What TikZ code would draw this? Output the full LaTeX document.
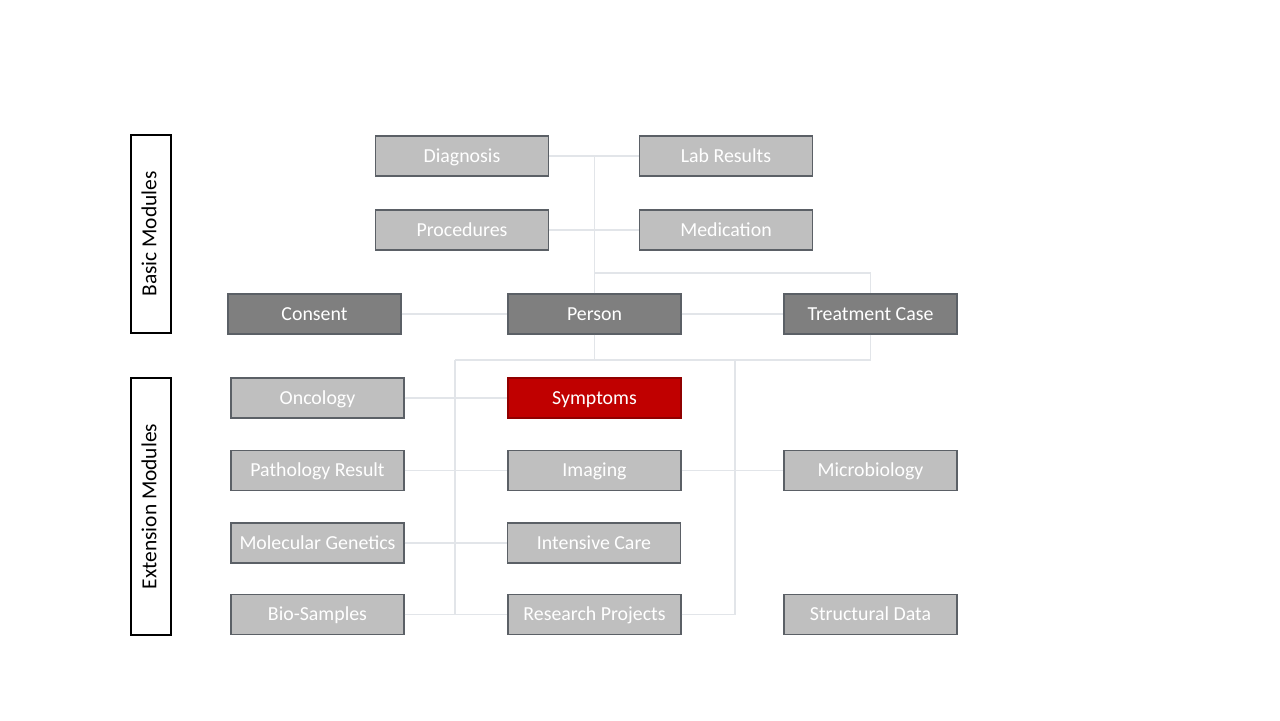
\documentclass[tikz,border=0pt]{standalone}
\usepackage{fontspec}
\setmainfont{Carlito}
\definecolor{boxfill}{HTML}{BFBFBF}
\definecolor{boxdark}{HTML}{7F7F7F}
\definecolor{boxred}{HTML}{C00000}
\definecolor{boxline}{HTML}{5B6066}
\definecolor{linkline}{HTML}{E2E5E9}
\tikzset{
  module/.style={draw=boxline, fill=boxfill, text=white, minimum width=3.46cm, minimum height=0.8cm, inner sep=0pt, text height=0.9em, text depth=0.18em, line width=0.7pt, font=\fontsize{11.3}{13}\selectfont},
  core/.style={module, fill=boxdark},
  focus/.style={module, fill=boxred, draw=boxred!75!black},
  group/.style={draw=black, fill=white, rotate=90, minimum height=0.8cm, inner sep=0pt, text height=0.8em, text depth=0.2em, line width=0.75pt, font=\fontsize{12.2}{14}\selectfont},
  link/.style={draw=linkline, line width=0.6pt}
}
\begin{document}
\begin{tikzpicture}[x=0.02cm, y=-0.02cm]
\useasboundingbox (0,0) rectangle (1280,720);
\node[group, minimum width=3.96cm] (basic) at (151,234) {Basic Modules};
\node[group, minimum width=5.14cm] (ext) at (151,506.5) {Extension Modules};
\node[module] (diag) at (462,156) {Diagnosis};
\node[module] (lab) at (726,156) {Lab Results};
\node[module] (proc) at (462,230) {Procedures};
\node[module] (med) at (726,230) {Medication};
\node[core] (consent) at (314.5,314) {Consent};
\node[core] (person) at (594.5,314) {Person};
\node[core] (tcase) at (870.5,314) {Treatment Case};
\node[module] (onco) at (317.5,398) {Oncology};
\node[focus] (sympt) at (594.5,398) {Symptoms};
\node[module] (patho) at (317.5,470.5) {Pathology Result};
\node[module] (imag) at (594.5,470.5) {Imaging};
\node[module] (micro) at (870.5,470.5) {Microbiology};
\node[module] (molgen) at (317.5,543) {Molecular Genetics};
\node[module] (icu) at (594,543) {Intensive Care};
\node[module] (bio) at (317.5,614.5) {Bio-Samples};
\node[module] (research) at (594.5,614.5) {Research Projects};
\node[module] (struct) at (870.5,614.5) {Structural Data};
\coordinate (upbus) at (594.5,273);
\coordinate (lowbus) at (594.5,360);
\coordinate (leftbus) at (455,360);
\coordinate (rightbus) at (735,360);
\coordinate (casebus) at (870.5,360);
\draw[link] (diag.east) -- (lab.west);
\draw[link] (proc.east) -- (med.west);
\draw[link] (person.north) -- (person.north |- diag.east);
\draw[link] (upbus) -| (tcase.north);
\draw[link] (tcase.south) -- (casebus);
\draw[link] (consent.east) -- (person.west);
\draw[link] (person.east) -- (tcase.west);
\draw[link] (person.south) -- (lowbus);
\draw[link] (leftbus) -- (casebus);
\draw[link] (leftbus) -- (leftbus |- bio.east);
\draw[link] (rightbus) -- (rightbus |- research.east);
\draw[link] (onco.east) -- (sympt.west);
\draw[link] (patho.east) -- (imag.west);
\draw[link] (molgen.east) -- (icu.west);
\draw[link] (bio.east) -- (research.west);
\draw[link] (imag.east) -- (micro.west);
\draw[link] (research.east) -- (rightbus |- research.east);
\end{tikzpicture}
\end{document}
